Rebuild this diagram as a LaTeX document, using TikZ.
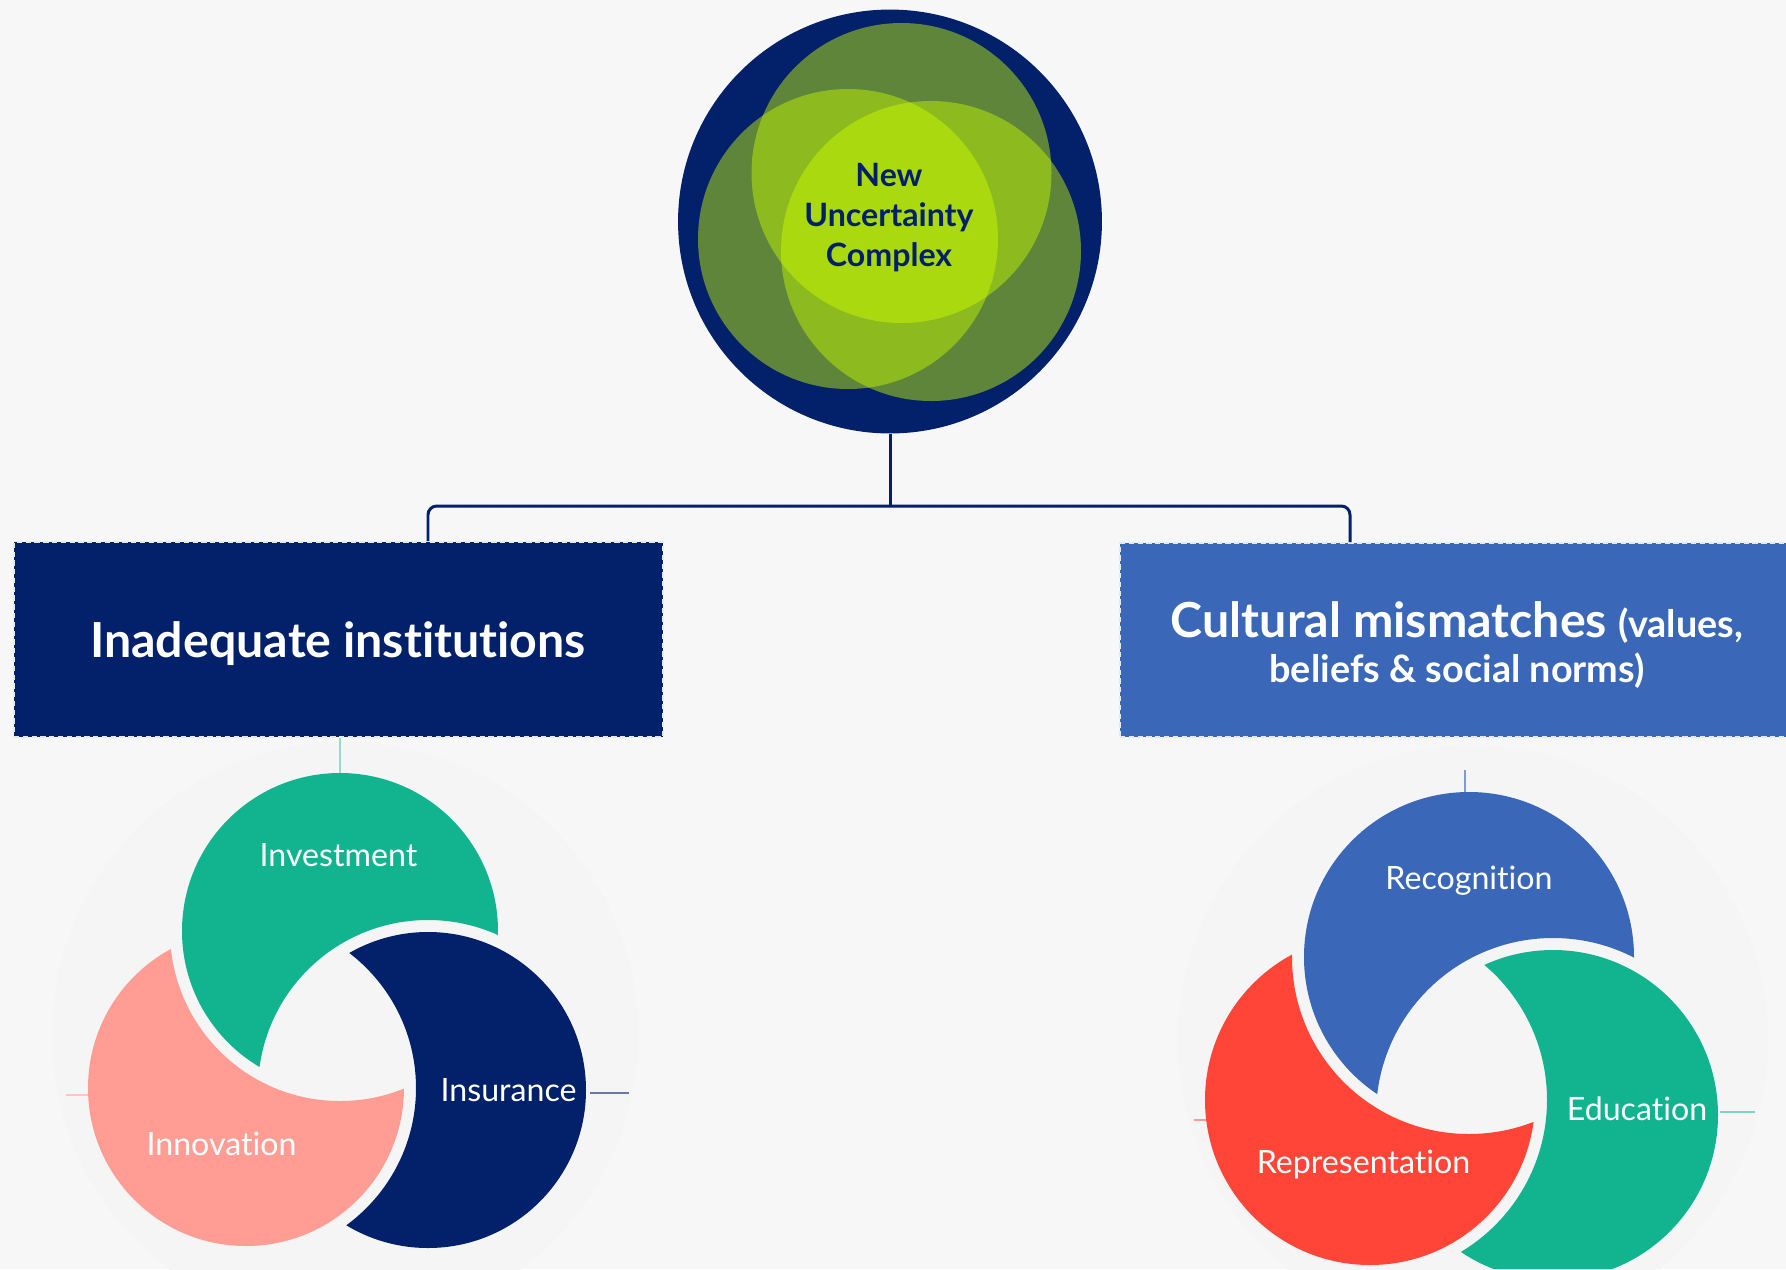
\documentclass[tikz,border=0pt]{standalone}
\usepackage{fontspec}
\setmainfont{Lato}[Ligatures=NoCommon]
\usetikzlibrary{positioning}

\definecolor{pagebg}{HTML}{F8F7F8}
\definecolor{halo}{HTML}{F5F5F6}
\definecolor{navy}{HTML}{02216A}
\definecolor{gdark}{HTML}{5E8539}
\definecolor{gmid}{HTML}{8DBA1F}
\definecolor{glight}{HTML}{A9D90E}
\definecolor{mint}{HTML}{12B490}
\definecolor{salmon}{HTML}{FF9D95}
\definecolor{steel}{HTML}{3A67B8}
\definecolor{tomato}{HTML}{FF4538}

\newcommand{\crescent}[5]{%
  \begin{scope}[even odd rule]
    \clip (0,0) rectangle (1786,1269) (#3) circle[radius=#5];
    \fill[#1] (#2) circle[radius=#4];
  \end{scope}}

\begin{document}
\begin{tikzpicture}[x=0.02cm,y=-0.02cm,
  link/.style={draw=navy,line width=1.7pt,rounded corners=5pt},
  headbox/.style={draw=white!82!gray,dash pattern=on 3pt off 2pt,line width=0.9pt,inner sep=0pt},
  headtext/.style={text=white,anchor=base,font=\bfseries\fontsize{27.5}{30}\selectfont},
  smalltext/.style={text=white,anchor=base,font=\bfseries\fontsize{21.5}{25}\selectfont},
  petal/.style={text=white,anchor=base,font=\fontsize{18.3}{22}\selectfont},
  stub/.style={line width=1.1pt}]
  \useasboundingbox (0,0) rectangle (1786,1269);
  \fill[pagebg] (0,0) rectangle (1786,1269);

  \node[circle,fill=navy,minimum size=8.48cm,inner sep=0pt] (nuc) at (890,221.5) {};
  \coordinate (gup) at (901.5,173);
  \coordinate (gleft) at (848,239);
  \coordinate (gright) at (931,251);
  \fill[gdark] (gup) circle[radius=150] (gleft) circle[radius=150] (gright) circle[radius=150];
  \begin{scope}
    \clip (gup) circle[radius=150];
    \fill[gmid] (gleft) circle[radius=150] (gright) circle[radius=150];
  \end{scope}
  \begin{scope}
    \clip (gleft) circle[radius=150];
    \fill[gmid] (gright) circle[radius=150];
  \end{scope}
  \begin{scope}
    \clip (gup) circle[radius=150];
    \clip (gleft) circle[radius=150];
    \fill[glight] (gright) circle[radius=150];
  \end{scope}
  \node[text=navy,align=center,font=\bfseries\fontsize{18.3}{22.6}\selectfont] (nuctext) at (889,217.5) {New\\Uncertainty\\Complex};

  \node[headbox,fill=navy,minimum width=12.98cm,minimum height=3.9cm] (inst) at (338.5,639.5) {};
  \node[headtext] (insttext) at (338,657) {Inadequate institutions};
  \node[headbox,fill=steel,minimum width=13.4cm,minimum height=3.88cm] (cult) at (1455,640) {};
  \node[headtext] (culttext) at (1457,637) {Cultural mismatches {\fontsize{21.5}{25}\selectfont(values,}};
  \node[smalltext] (culttext2) at (1457,682) {beliefs \& social norms)};

  \coordinate (split) at (890,506);
  \coordinate (dropL) at (428,506);
  \coordinate (dropR) at (1350,506);
  \draw[link] (nuc.south) -- (split);
  \draw[link] (split) -- (dropL) -- (dropL |- inst.north);
  \draw[link] (split) -- (dropR) -- (dropR |- cult.north);

  \fill[halo] (345,1035) circle[radius=293];
  \fill[halo] (1473,1040) circle[radius=295];

  \coordinate (inv) at (340,931);
  \coordinate (ins) at (428,1090);
  \coordinate (inn) at (246,1088);
  \crescent{mint}{inv}{ins}{158}{170}
  \crescent{navy}{ins}{inn}{158}{170}
  \crescent{salmon}{inn}{inv}{158}{170}

  \coordinate (rec) at (1469,957);
  \coordinate (edu) at (1553,1115);
  \coordinate (rep) at (1370,1100);
  \crescent{steel}{rec}{edu}{165}{177}
  \crescent{mint}{edu}{rep}{165}{177}
  \crescent{tomato}{rep}{rec}{165}{177}

  \coordinate (invtop) at (340,773);
  \coordinate (innleft) at (88,1095);
  \coordinate (insright) at (590,1093);
  \draw[stub,mint!45] (inst.south -| invtop) -- (invtop);
  \draw[stub,salmon!60] (innleft) -- ++(-22,0);
  \draw[stub,navy!60] (insright) -- ++(39,0);

  \coordinate (rectop) at (1465,792);
  \coordinate (repleft) at (1206,1120);
  \coordinate (eduright) at (1720,1112);
  \draw[stub,steel!65] (rectop) -- ++(0,-22);
  \draw[stub,tomato!55] (repleft) -- ++(-12,0);
  \draw[stub,mint!55] (eduright) -- ++(35,0);

  \node[petal] (investment) at (338.5,866) {Investment};
  \node[petal] (insurance) at (508.6,1101) {Insurance};
  \node[petal] (innovation) at (221.5,1155) {Innovation};
  \node[petal] (recognition) at (1469,889) {Recognition};
  \node[petal] (education) at (1637,1120) {Education};
  \node[petal] (representation) at (1363.5,1173) {Representation};
\end{tikzpicture}
\end{document}
